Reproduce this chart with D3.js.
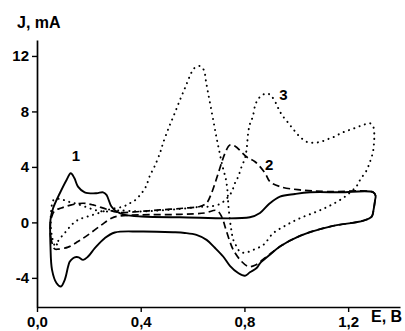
<!DOCTYPE html>
<html lang="en">
<head>
<meta charset="UTF-8"/>
<title>Cyclic voltammograms</title>
<style>
  body { margin: 0; background: #fff; }
  svg text { font-family: "Liberation Sans", Arial, sans-serif; font-weight: bold; fill: #000; }
</style>
<script src="https://d3js.org/d3.v7.min.js"></script>
</head>
<body>
<div id="chart"></div>
<script>
// axis ticks
var xTicks = [0, 0.4, 0.8, 1.2];
var yTicks = [-4, 0, 4, 8, 12];

// curve 1 (solid) : [E, J]
var curve1 = [
  [0.130, 3.54], [0.144, 3.20], [0.158, 2.58], [0.184, 2.17], [0.229, 2.10],
  [0.255, 2.17], [0.268, 1.98], [0.287, 1.14], [0.307, 0.78], [0.339, 0.54],
  [0.403, 0.42], [0.551, 0.37], [0.821, 0.37], [0.860, 0.68], [0.898, 1.38],
  [0.937, 1.86], [0.995, 2.05], [1.053, 2.17], [1.169, 2.17], [1.297, 2.17],
  [1.306, 1.91], [1.304, 1.62], [1.298, 0.90], [1.291, 0.42], [1.259, 0.13],
  [1.130, -0.30], [1.014, -0.97], [0.937, -1.74], [0.898, -2.34], [0.860, -2.95],
  [0.847, -3.29], [0.821, -3.60], [0.802, -3.85], [0.776, -3.65], [0.744, -3.13],
  [0.718, -2.46], [0.686, -1.83], [0.654, -1.26], [0.615, -0.90], [0.570, -0.76],
  [0.525, -0.71], [0.397, -0.66], [0.300, -0.73], [0.261, -1.14], [0.223, -1.86],
  [0.197, -2.46], [0.178, -2.70], [0.161, -2.52], [0.152, -2.50], [0.139, -2.58],
  [0.126, -2.84], [0.120, -3.18], [0.107, -4.14], [0.092, -4.62], [0.075, -4.37],
  [0.058, -3.42], [0.052, -1.74], [0.052, 0.18], [0.062, 1.02], [0.088, 2.10],
  [0.114, 3.06]
];

// curve 2 (dashed)
var curve2 = [
  [0.068, -1.91], [0.055, -1.26], [0.051, -0.40], [0.055, 0.32], [0.068, 0.83],
  [0.094, 1.04], [0.133, 1.26], [0.178, 1.38], [0.216, 1.26], [0.268, 0.95],
  [0.313, 0.72], [0.397, 0.79], [0.474, 0.90], [0.564, 1.02], [0.628, 1.15],
  [0.654, 1.40], [0.673, 2.10], [0.699, 3.54], [0.725, 4.98], [0.744, 5.58],
  [0.763, 5.50], [0.808, 4.73], [0.841, 4.37], [0.880, 3.54], [0.898, 2.94],
  [0.937, 2.58], [1.014, 2.34], [1.117, 2.22], [1.297, 2.17], [1.306, 1.91],
  [1.304, 1.62], [1.298, 0.90], [1.291, 0.42], [1.259, 0.13], [1.130, -0.30],
  [1.014, -0.97], [0.937, -1.74], [0.886, -2.46], [0.841, -3.09], [0.815, -3.18],
  [0.789, -2.82], [0.757, -1.98], [0.731, -0.66], [0.712, 0.42], [0.693, 0.86],
  [0.647, 0.68], [0.551, 0.58], [0.397, 0.54], [0.313, 0.45], [0.287, 0.30],
  [0.249, -0.18], [0.197, -0.90], [0.158, -1.38], [0.120, -1.78], [0.081, -1.93]
];

// curve 3 (dotted)
var curve3 = [
  [0.072, -1.76], [0.082, -1.33], [0.097, -0.97], [0.114, -0.61], [0.133, -0.18],
  [0.158, 0.18], [0.191, 0.40], [0.234, 0.65], [0.281, 0.94], [0.332, 1.14],
  [0.358, 1.38], [0.377, 1.58], [0.403, 2.10], [0.420, 2.58], [0.435, 3.35],
  [0.454, 4.06], [0.476, 5.09], [0.486, 5.70], [0.506, 6.73], [0.528, 7.73],
  [0.551, 8.81], [0.574, 9.84], [0.592, 10.66], [0.605, 11.09], [0.627, 11.28],
  [0.644, 10.97], [0.651, 10.25], [0.659, 9.41], [0.670, 8.33], [0.681, 7.25],
  [0.691, 6.24], [0.702, 5.22], [0.716, 4.01], [0.729, 3.06], [0.735, 2.20],
  [0.738, 1.26], [0.744, 0.18], [0.750, -0.60], [0.757, -1.26], [0.770, -1.74],
  [0.783, -2.12], [0.802, -2.19], [0.834, -1.98], [0.873, -1.62], [0.911, -0.78],
  [0.963, -0.18], [1.014, 0.30], [1.079, 0.78], [1.130, 1.21], [1.188, 1.86],
  [1.233, 2.63], [1.246, 3.06], [1.272, 3.78], [1.281, 4.21], [1.291, 4.73],
  [1.297, 5.22], [1.300, 5.81], [1.301, 6.29], [1.297, 6.89], [1.285, 7.14],
  [1.256, 7.01], [1.223, 6.78], [1.195, 6.60], [1.171, 6.42], [1.146, 6.17],
  [1.120, 5.99], [1.094, 5.81], [1.066, 5.74], [1.040, 5.81], [1.014, 6.17],
  [0.991, 6.65], [0.969, 7.18], [0.948, 7.66], [0.934, 8.09], [0.922, 8.58],
  [0.901, 9.17], [0.886, 9.30], [0.863, 9.10], [0.844, 8.58], [0.832, 7.61],
  [0.821, 7.09], [0.815, 6.53], [0.808, 5.22], [0.802, 4.62], [0.789, 4.01],
  [0.776, 3.29], [0.763, 2.82], [0.751, 2.20], [0.733, 1.75], [0.706, 1.33],
  [0.667, 1.15], [0.628, 1.12], [0.551, 0.97], [0.474, 0.86], [0.397, 0.79],
  [0.312, 0.86], [0.261, 0.78], [0.223, 0.90], [0.184, 1.14], [0.146, 1.38],
  [0.120, 1.50], [0.088, 1.69], [0.064, 1.62], [0.055, 0.90], [0.053, -0.18],
  [0.059, -1.12]
];

var curveLabels = ["1", "2", "3"];
var labelPos = [[0.150, 4.4], [0.895, 3.80], [0.950, 8.80]];

var w = 405;
var h = 331;
var margin = {top: 40, right: 5, bottom: 24, left: 37};

var xScale = d3.scaleLinear()
  .domain([0, 1.4])
  .range([margin.left, w - margin.right]);

var yScale = d3.scaleLinear()
  .domain([-6.1, 13.15])
  .range([h - margin.bottom, margin.top]);

var svg = d3.select("#chart")
  .append("svg")
  .attr("width", w)
  .attr("height", h);

// axes
var xAxis = d3.axisBottom(xScale)
  .tickValues(xTicks)
  .tickSize(5)
  .tickSizeOuter(0)
  .tickPadding(4)
  .tickFormat(function(d) { return d3.format(".1f")(d).replace(".", ","); });

var yAxis = d3.axisLeft(yScale)
  .tickValues(yTicks)
  .tickSize(5)
  .tickSizeOuter(0)
  .tickPadding(3)
  .tickFormat(function(d) { return String(d); });

var gx = svg.append("g")
  .attr("transform", "translate(0," + (h - margin.bottom) + ")")
  .call(xAxis);

var gy = svg.append("g")
  .attr("transform", "translate(" + margin.left + ",0)")
  .call(yAxis);

[gx, gy].forEach(function(g) {
  g.attr("font-family", null).attr("font-size", null);
  g.selectAll("text").style("font-size", "15px");
  g.select(".domain").attr("stroke", "#000").attr("stroke-width", 1.7);
  g.selectAll(".tick line").attr("stroke", "#000").attr("stroke-width", 1.4);
});

// axis titles
svg.append("text")
  .attr("x", 17)
  .attr("y", 27.5)
  .style("font-size", "16px")
  .text("J, mA");

svg.append("text")
  .attr("x", 371)
  .attr("y", 322)
  .style("font-size", "16px")
  .text("E, B");

// curves
var line = d3.line()
  .x(function(d) { return xScale(d[0]); })
  .y(function(d) { return yScale(d[1]); })
  .curve(d3.curveCatmullRomClosed.alpha(0.5));

var curves = [curve1, curve2, curve3];
var styles = [
  {width: 1.9, dash: null, cap: "butt"},
  {width: 1.7, dash: "7,4", cap: "butt"},
  {width: 2, dash: "0.1,5.5", cap: "round"}
];

svg.selectAll("path.cv")
  .data(curves)
  .enter()
  .append("path")
  .attr("class", "cv")
  .attr("d", line)
  .attr("fill", "none")
  .attr("stroke", "#000")
  .attr("stroke-width", function(d, i) { return styles[i].width; })
  .attr("stroke-dasharray", function(d, i) { return styles[i].dash; })
  .attr("stroke-linecap", function(d, i) { return styles[i].cap; })
  .attr("stroke-linejoin", "round");

svg.selectAll("text.lbl")
  .data(curveLabels)
  .enter()
  .append("text")
  .attr("class", "lbl")
  .attr("x", function(d, i) { return xScale(labelPos[i][0]); })
  .attr("y", function(d, i) { return yScale(labelPos[i][1]); })
  .attr("text-anchor", "middle")
  .style("font-size", "15px")
  .text(function(d) { return d; });
</script>
</body>
</html>
